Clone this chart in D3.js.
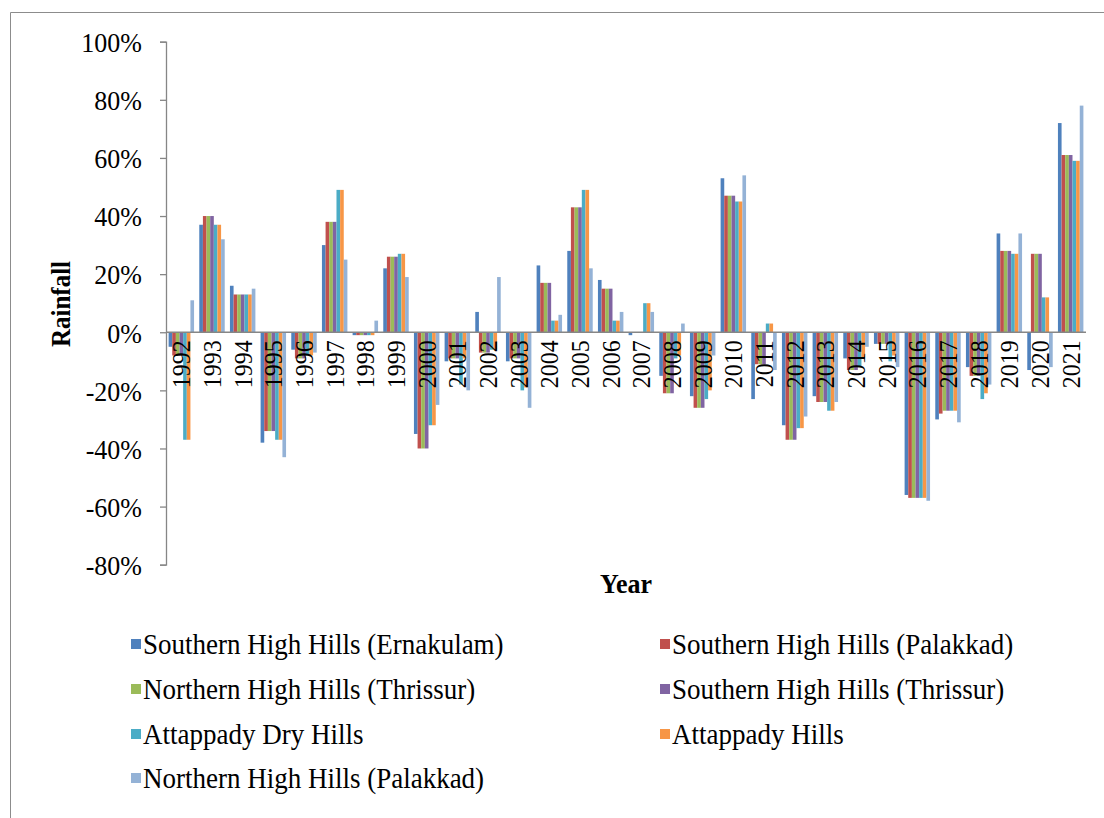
<!DOCTYPE html>
<html>
<head>
<meta charset="utf-8">
<script src="https://cdn.jsdelivr.net/npm/d3@7"></script>
<style>
  html, body { margin: 0; padding: 0; background: #fff; }
  svg { display: block; }
  text { font-family: "Liberation Serif", "Times New Roman", serif; fill: #000; }
</style>
</head>
<body>
<svg id="chart" width="1104" height="818"></svg>
<script>
// Annual rainfall departure (%) per agro-ecological unit
const years = ["1992","1993","1994","1995","1996","1997","1998","1999","2000","2001",
  "2002","2003","2004","2005","2006","2007","2008","2009","2010","2011",
  "2012","2013","2014","2015","2016","2017","2018","2019","2020","2021"];

const seriesNames = [
  "Southern High Hills (Ernakulam)",
  "Southern High Hills (Palakkad)",
  "Northern High Hills (Thrissur)",
  "Southern High Hills (Thrissur)",
  "Attappady Dry Hills",
  "Attappady Hills",
  "Northern High Hills (Palakkad)"
];

const southernErnakulam = [-5,37,16,-38,-6,30,-1,22,-35,-10,7,-10,23,28,18,-1,-15,-22,53,-23,-32,-22,-9,-4,-56,-30,-12,34,-13,72];
const southernPalakkad  = [-8,40,13,-34,-9,38,-1,26,-40,-9,-7,-9,17,43,15,0,-21,-26,47,-11,-37,-24,-13,-4,-57,-28,-15,28,27,61];
const northernThrissur  = [-8,40,13,-34,-9,38,-1,26,-40,-9,-7,-9,17,43,15,0,-21,-26,47,-11,-37,-24,-13,-4,-57,-27,-15,28,27,61];
const southernThrissur  = [-8,40,13,-34,-9,38,-1,26,-40,-9,-7,-9,17,43,15,0,-21,-26,47,-11,-37,-24,-13,-4,-57,-27,-15,28,27,61];
const attappadyDry      = [-37,37,13,-37,-8,49,-1,27,-32,-18,-6,-20,4,49,4,10,-9,-23,45,3,-33,-27,-12,-10,-57,-27,-23,27,12,59];
const attappady         = [-37,37,13,-37,-8,49,-1,27,-32,-9,-6,-19,4,49,4,10,-8,-20,45,3,-33,-27,-9,-8,-57,-27,-21,27,12,59];
const northernPalakkad  = [11,32,15,-43,-7,25,4,19,-25,-20,19,-26,6,22,7,7,3,-8,54,-13,-29,-24,-5,-12,-58,-31,-18,34,-12,78];

const seriesValues = [southernErnakulam, southernPalakkad, northernThrissur, southernThrissur,
  attappadyDry, attappady, northernPalakkad];

const colors = ["#4F81BD","#C0504D","#9BBB59","#8064A2","#4BACC6","#F79646","#94B2D6"];

const yTicks = [-80,-60,-40,-20,0,20,40,60,80,100];

const svg = d3.select("#chart");
const SERIF = "'Liberation Serif', 'Times New Roman', serif";
const axisGrey = "#868686";
const STRETCH = 1.08; // glyphs are drawn a little taller than wide

// outer frame
svg.append("path")
  .attr("d", "M10.5,818 V12.5 H1104")
  .attr("fill", "none").attr("stroke", "#8c8c8c").attr("stroke-width", 1);

const plot = { left: 166, right: 1086, top: 41.7, bottom: 564.7 };

const y = d3.scaleLinear().domain([-80, 100]).range([plot.bottom, plot.top]);
const x0 = d3.scaleBand().domain(years).range([plot.left, plot.right])
  .paddingInner(0.17).paddingOuter(0.085);
const x1 = d3.scaleBand().domain(d3.range(seriesNames.length)).range([0, x0.bandwidth()]);

// bars
const groups = svg.append("g").selectAll("g")
  .data(years).join("g")
  .attr("transform", d => `translate(${x0(d)},0)`);

groups.selectAll("rect")
  .data((yr, i) => seriesValues.map((vals, s) => ({ s, v: vals[i] })))
  .join("rect")
  .attr("x", d => x1(d.s))
  .attr("width", x1.bandwidth())
  .attr("y", d => y(Math.max(0, d.v)))
  .attr("height", d => Math.abs(y(d.v) - y(0)))
  .attr("fill", d => colors[d.s]);

// y axis
const yAxis = d3.axisLeft(y).tickValues(yTicks).tickSize(6).tickFormat(d => d + "%");
const yg = svg.append("g").attr("transform", `translate(${plot.left},0)`).call(yAxis);
yg.select(".domain").attr("stroke", axisGrey).attr("stroke-width", 1.3);
yg.selectAll(".tick line").attr("stroke", axisGrey).attr("stroke-width", 1.3);
yg.selectAll(".tick text")
  .attr("x", null).attr("dy", null)
  .attr("transform", `translate(-24,0) scale(1,${STRETCH})`)
  .attr("dy", "0.35em")
  .style("font-family", SERIF)
  .style("font-size", "26px")
  .attr("fill", "#000");

// zero line
svg.append("line")
  .attr("x1", plot.left).attr("x2", plot.right)
  .attr("y1", y(0)).attr("y2", y(0))
  .attr("stroke", axisGrey).attr("stroke-width", 1.3);

// year labels, rotated, hanging below the zero line
const xAxis = d3.axisBottom(x0).tickSize(0).tickPadding(0);
const xg = svg.append("g").attr("transform", `translate(0,${y(0)})`).call(xAxis);
xg.select(".domain").remove();
xg.selectAll(".tick text")
  .attr("transform", `rotate(-90) scale(1,${STRETCH})`)
  .attr("x", -8)
  .attr("y", 0)
  .attr("dy", "0.35em")
  .attr("text-anchor", "end")
  .style("font-family", SERIF)
  .style("font-size", "24px")
  .attr("fill", "#000");

// axis titles
svg.append("text")
  .attr("transform", `translate(70,304) rotate(-90) scale(1,${STRETCH})`)
  .attr("text-anchor", "middle")
  .style("font-size", "25px").style("font-weight", "bold")
  .text("Rainfall");

svg.append("text")
  .attr("transform", `translate(626,593) scale(1,${STRETCH})`)
  .attr("text-anchor", "middle")
  .style("font-size", "26px").style("font-weight", "bold")
  .text("Year");

// legend
const legendCols = [131, 660];
const legendRows = [644, 689, 734, 778];
const legend = svg.append("g").selectAll("g")
  .data(seriesNames).join("g")
  .attr("transform", (d, i) => `translate(${legendCols[i % 2]},${legendRows[Math.floor(i / 2)]})`);
legend.append("rect")
  .attr("x", 0).attr("y", -5).attr("width", 10).attr("height", 10)
  .attr("fill", (d, i) => colors[i]);
legend.append("text")
  .attr("transform", `translate(12,0) scale(1,${STRETCH})`)
  .attr("dy", "0.35em")
  .style("font-size", "27px")
  .text(d => d);
</script>
</body>
</html>
